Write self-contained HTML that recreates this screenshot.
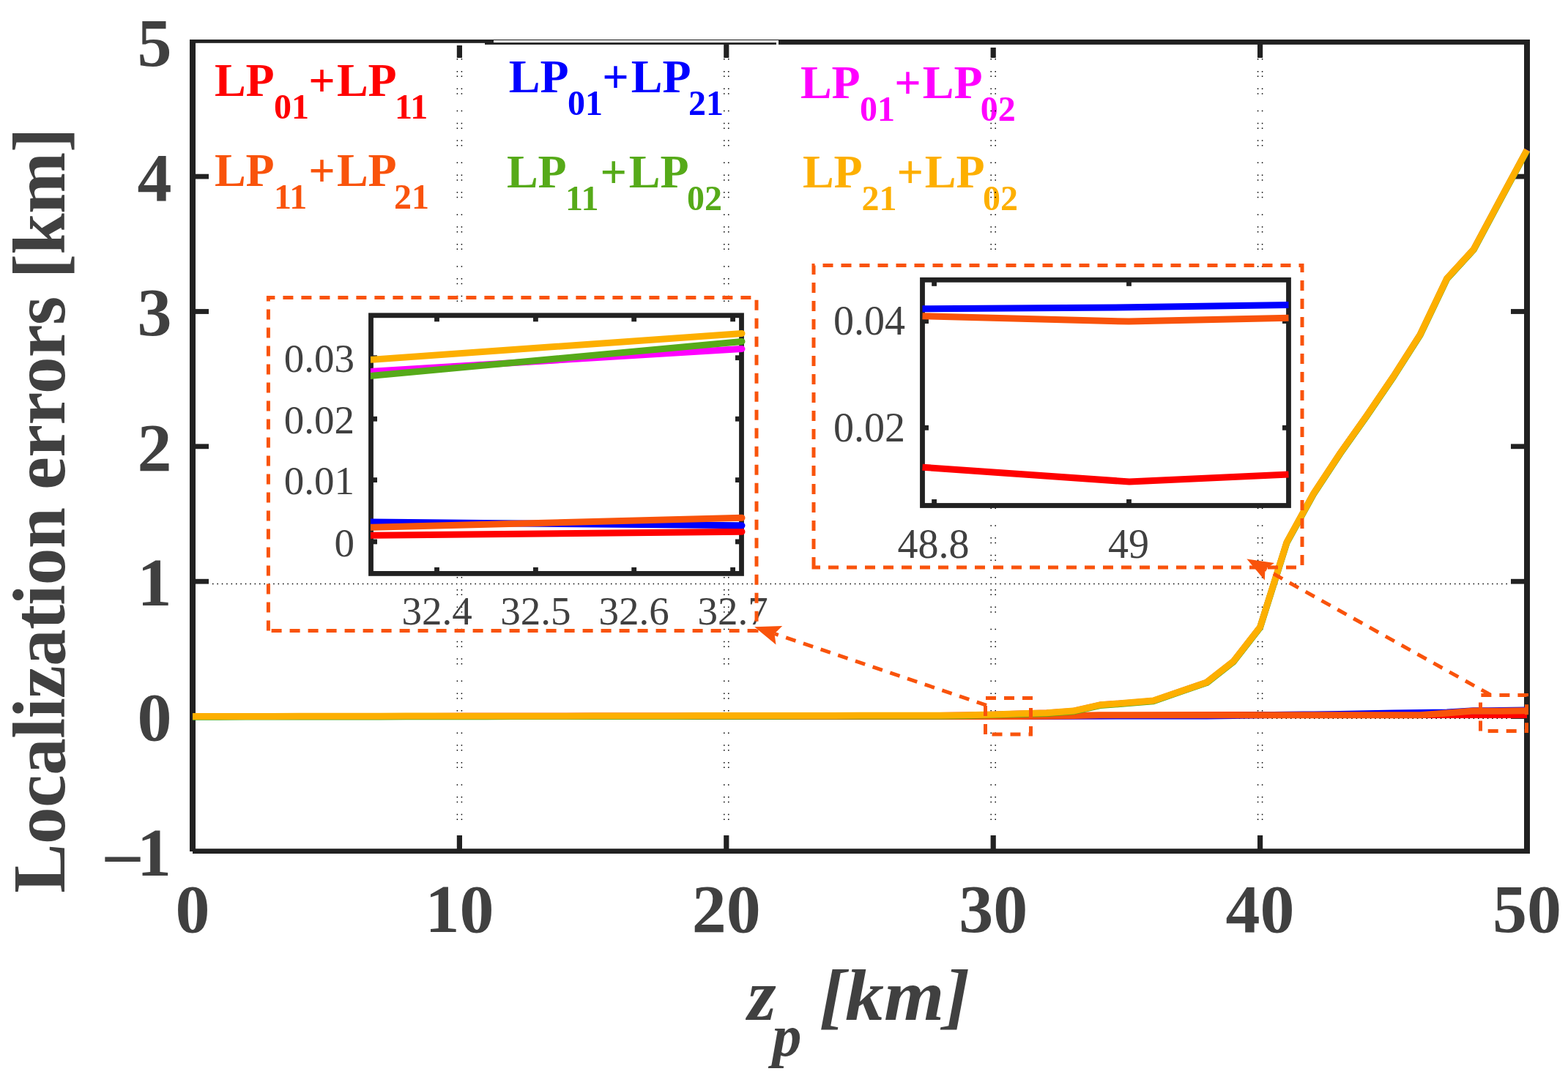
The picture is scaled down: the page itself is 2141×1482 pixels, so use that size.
<!DOCTYPE html>
<html><head><meta charset="utf-8"><title>Localization errors</title><style>html,body{margin:0;padding:0;background:#fff;overflow:hidden}svg{display:block}</style></head><body>
<svg width="2141" height="1482" viewBox="0 0 2141 1482">
<rect x="0" y="0" width="2141" height="1482" fill="#fff"/>
<text style="font-family:'Liberation Serif','Times New Roman',serif;font-weight:bold;fill:#FF0000"><tspan x="292.9" y="130.7" font-size="64">LP</tspan><tspan x="374.1" y="161.9" font-size="48">01</tspan><tspan x="421.3" y="130.7" font-size="64">+</tspan><tspan x="459.9" y="130.7" font-size="64">LP</tspan><tspan x="538.9" y="161.9" font-size="48">11</tspan></text>
<text style="font-family:'Liberation Serif','Times New Roman',serif;font-weight:bold;fill:#F9530B"><tspan x="292.9" y="253.9" font-size="64">LP</tspan><tspan x="373.9" y="284.7" font-size="48">11</tspan><tspan x="421.3" y="253.9" font-size="64">+</tspan><tspan x="459.9" y="253.9" font-size="64">LP</tspan><tspan x="538.1" y="284.7" font-size="48">21</tspan></text>
<text style="font-family:'Liberation Serif','Times New Roman',serif;font-weight:bold;fill:#0000FF"><tspan x="694.8" y="126.0" font-size="64">LP</tspan><tspan x="774.9" y="157.1" font-size="48">01</tspan><tspan x="822.3" y="126.0" font-size="64">+</tspan><tspan x="861.7" y="126.0" font-size="64">LP</tspan><tspan x="940.0" y="157.1" font-size="48">21</tspan></text>
<text style="font-family:'Liberation Serif','Times New Roman',serif;font-weight:bold;fill:#56AA19"><tspan x="691.9" y="255.7" font-size="64">LP</tspan><tspan x="772.1" y="286.9" font-size="48">11</tspan><tspan x="819.5" y="255.7" font-size="64">+</tspan><tspan x="858.8" y="255.7" font-size="64">LP</tspan><tspan x="938.1" y="286.9" font-size="48">02</tspan></text>
<text style="font-family:'Liberation Serif','Times New Roman',serif;font-weight:bold;fill:#FF00FF"><tspan x="1092.9" y="133.9" font-size="64">LP</tspan><tspan x="1174.1" y="164.8" font-size="48">01</tspan><tspan x="1221.3" y="133.9" font-size="64">+</tspan><tspan x="1259.8" y="133.9" font-size="64">LP</tspan><tspan x="1338.8" y="164.8" font-size="48">02</tspan></text>
<text style="font-family:'Liberation Serif','Times New Roman',serif;font-weight:bold;fill:#FDAF00"><tspan x="1095.9" y="255.7" font-size="64">LP</tspan><tspan x="1176.4" y="286.9" font-size="48">21</tspan><tspan x="1224.5" y="255.7" font-size="64">+</tspan><tspan x="1262.7" y="255.7" font-size="64">LP</tspan><tspan x="1342.1" y="286.9" font-size="48">02</tspan></text>
<line x1="624.4" y1="80" x2="624.4" y2="1140" stroke="#000" stroke-width="1.5" stroke-dasharray="1.5 15.4 1.5 5.2 1.5 15.4 1.5 5.2 1.5 22.1"/>
<line x1="630.4" y1="80" x2="630.4" y2="1140" stroke="#000" stroke-width="1.5" stroke-dasharray="1.5 15.4 1.5 5.2 1.5 15.4 1.5 5.2 1.5 22.1"/>
<line x1="988.8" y1="80" x2="988.8" y2="1140" stroke="#000" stroke-width="1.5" stroke-dasharray="1.5 15.4 1.5 5.2 1.5 15.4 1.5 5.2 1.5 22.1"/>
<line x1="994.8" y1="80" x2="994.8" y2="1140" stroke="#000" stroke-width="1.5" stroke-dasharray="1.5 15.4 1.5 5.2 1.5 15.4 1.5 5.2 1.5 22.1"/>
<line x1="1353.2" y1="80" x2="1353.2" y2="1140" stroke="#000" stroke-width="1.5" stroke-dasharray="1.5 15.4 1.5 5.2 1.5 15.4 1.5 5.2 1.5 22.1"/>
<line x1="1359.2" y1="80" x2="1359.2" y2="1140" stroke="#000" stroke-width="1.5" stroke-dasharray="1.5 15.4 1.5 5.2 1.5 15.4 1.5 5.2 1.5 22.1"/>
<line x1="1717.6" y1="80" x2="1717.6" y2="1140" stroke="#000" stroke-width="1.5" stroke-dasharray="1.5 15.4 1.5 5.2 1.5 15.4 1.5 5.2 1.5 22.1"/>
<line x1="1723.6" y1="80" x2="1723.6" y2="1140" stroke="#000" stroke-width="1.5" stroke-dasharray="1.5 15.4 1.5 5.2 1.5 15.4 1.5 5.2 1.5 22.1"/>
<line x1="290" y1="797.5" x2="2062" y2="797.5" stroke="#000" stroke-width="1.5" stroke-dasharray="1.5 4.9"/>
<line x1="290" y1="981.3" x2="2062" y2="981.3" stroke="#000" stroke-width="1.5" stroke-dasharray="1.5 4.9"/>
<g fill="#212121">
<rect x="259" y="54" width="8" height="1109"/>
<rect x="2081" y="54" width="8" height="1112"/>
<rect x="263" y="1159.2" width="1826" height="6.8"/>
<rect x="259" y="54" width="404" height="4.8"/>
<rect x="662" y="54" width="1427" height="6.9"/>
<rect x="263" y="975.1" width="22" height="6.8"/>
<rect x="2063" y="975.1" width="22" height="6.8"/>
<rect x="263" y="790.8" width="22" height="6.8"/>
<rect x="2063" y="790.8" width="22" height="6.8"/>
<rect x="263" y="606.4" width="22" height="6.8"/>
<rect x="2063" y="606.4" width="22" height="6.8"/>
<rect x="263" y="422.1" width="22" height="6.8"/>
<rect x="2063" y="422.1" width="22" height="6.8"/>
<rect x="263" y="237.7" width="22" height="6.8"/>
<rect x="2063" y="237.7" width="22" height="6.8"/>
<rect x="623.8" y="1141" width="7.2" height="20"/>
<rect x="623.8" y="62" width="7.2" height="17"/>
<rect x="988.2" y="1141" width="7.2" height="20"/>
<rect x="988.2" y="60" width="7.2" height="19"/>
<rect x="1352.6" y="1141" width="7.2" height="20"/>
<rect x="1352.6" y="65" width="7.2" height="14"/>
<rect x="1717.0" y="1141" width="7.2" height="20"/>
<rect x="1717.0" y="60" width="7.2" height="19"/>
</g>
<rect x="674" y="55.1" width="389" height="3.0" fill="#fff"/>
<rect x="1060" y="58" width="3" height="3" fill="#fff"/>
<g style="font-family:'Liberation Serif','Times New Roman',serif;font-weight:bold;font-size:94px;fill:#404040">
<text x="234.5" y="89.5" text-anchor="end">5</text>
<text x="234.5" y="273.9" text-anchor="end">4</text>
<text x="234.5" y="458.3" text-anchor="end">3</text>
<text x="234.5" y="642.6" text-anchor="end">2</text>
<text x="234.5" y="826.9" text-anchor="end">1</text>
<text x="234.5" y="1011.3" text-anchor="end">0</text>
<text x="144.0" y="1195.6">–<tspan x="186.9">1</tspan></text>
<text x="263.0" y="1272.9" text-anchor="middle">0</text>
<text x="627.4" y="1272.9" text-anchor="middle">10</text>
<text x="991.8" y="1272.9" text-anchor="middle">20</text>
<text x="1356.2" y="1272.9" text-anchor="middle">30</text>
<text x="1720.6" y="1272.9" text-anchor="middle">40</text>
<text x="2085.0" y="1272.9" text-anchor="middle">50</text>
</g>
<text transform="translate(88,1219.7) rotate(-90)" textLength="1045" lengthAdjust="spacing" style="font-family:'Liberation Serif','Times New Roman',serif;font-weight:bold;font-size:101px;fill:#404040">Localization errors [km]</text>
<text style="font-family:'Liberation Serif','Times New Roman',serif;font-weight:bold;font-style:italic;fill:#404040"><tspan x="1020.8" y="1392.6" font-size="100">z</tspan><tspan x="1054.6" y="1442" font-size="80">p</tspan></text>
<text transform="translate(1118.6,1392.6) scale(1.06,1)" style="font-family:'Liberation Serif','Times New Roman',serif;font-weight:bold;font-style:italic;font-size:100px;fill:#404040">[km]</text>
<path d="M263.0,978.5 L299.4,978.5 L335.9,978.5 L372.3,978.5 L408.8,978.5 L445.2,978.5 L481.6,978.5 L518.1,978.5 L554.5,978.5 L591.0,978.5 L627.4,978.5 L663.8,978.5 L700.3,978.5 L736.7,978.5 L773.2,978.5 L809.6,978.5 L846.0,978.5 L882.5,978.5 L918.9,978.5 L955.4,978.5 L991.8,978.5 L1028.2,978.5 L1064.7,978.5 L1101.1,978.5 L1137.6,978.5 L1174.0,978.5 L1210.4,978.5 L1246.9,978.5 L1283.3,978.5 L1319.8,978.5 L1356.2,978.5 L1392.6,978.5 L1429.1,978.3 L1465.5,978.0 L1502.0,977.8 L1538.4,977.5 L1574.8,977.2 L1611.3,976.9 L1647.7,976.7 L1684.2,976.5 L1720.6,976.5 L1757.0,976.5 L1793.5,976.5 L1829.9,976.5 L1866.4,976.5 L1902.8,976.5 L1939.2,976.5 L1975.7,976.5 L2012.1,976.5 L2048.6,976.5 L2085.0,976.5" fill="none" stroke="#FF0000" stroke-width="9" stroke-linejoin="round" stroke-linecap="butt"/>
<path d="M263.0,978.5 L299.4,978.5 L335.9,978.5 L372.3,978.5 L408.8,978.5 L445.2,978.5 L481.6,978.5 L518.1,978.5 L554.5,978.5 L591.0,978.5 L627.4,978.5 L663.8,978.5 L700.3,978.5 L736.7,978.5 L773.2,978.5 L809.6,978.5 L846.0,978.5 L882.5,978.5 L918.9,978.5 L955.4,978.5 L991.8,978.5 L1028.2,978.5 L1064.7,978.5 L1101.1,978.5 L1137.6,978.5 L1174.0,978.5 L1210.4,978.5 L1246.9,978.5 L1283.3,978.5 L1319.8,978.5 L1356.2,978.5 L1392.6,978.5 L1429.1,977.9 L1465.5,977.9 L1502.0,977.9 L1538.4,977.9 L1574.8,977.9 L1611.3,977.9 L1647.7,977.9 L1684.2,977.4 L1720.6,976.7 L1757.0,976.3 L1793.5,975.9 L1829.9,975.6 L1866.4,974.8 L1902.8,974.1 L1939.2,973.5 L1975.7,973.0 L2012.1,970.8 L2048.6,970.6 L2085.0,970.0" fill="none" stroke="#0000FF" stroke-width="9" stroke-linejoin="round" stroke-linecap="butt"/>
<path d="M263.0,978.5 L299.4,978.5 L335.9,978.4 L372.3,978.4 L408.8,978.3 L445.2,978.3 L481.6,978.2 L518.1,978.2 L554.5,978.1 L591.0,978.1 L627.4,978.0 L663.8,978.0 L700.3,977.9 L736.7,977.9 L773.2,977.9 L809.6,977.8 L846.0,977.8 L882.5,977.7 L918.9,977.7 L955.4,977.6 L991.8,977.6 L1028.2,977.5 L1064.7,977.5 L1101.1,977.4 L1137.6,977.4 L1174.0,977.3 L1210.4,977.3 L1246.9,977.3 L1283.3,977.2 L1319.8,976.7 L1356.2,975.9 L1392.6,974.8 L1429.1,973.7 L1465.5,971.1 L1502.0,962.8 L1538.4,960.1 L1574.8,957.1 L1611.3,944.4 L1647.7,931.9 L1684.2,903.3 L1720.6,856.5 L1757.0,740.7 L1793.5,674.3 L1829.9,619.0 L1866.4,567.4 L1902.8,513.9 L1939.2,456.8 L1975.7,380.3 L2012.1,340.6 L2048.6,272.4 L2085.0,204.8" fill="none" stroke="#FF00FF" stroke-width="8.4" stroke-linejoin="round" stroke-linecap="butt"/>
<path d="M263.0,978.5 L299.4,978.5 L335.9,978.5 L372.3,978.5 L408.8,978.5 L445.2,978.5 L481.6,978.5 L518.1,978.5 L554.5,978.5 L591.0,978.5 L627.4,978.5 L663.8,978.5 L700.3,978.5 L736.7,978.5 L773.2,978.5 L809.6,978.5 L846.0,978.5 L882.5,978.5 L918.9,978.5 L955.4,978.5 L991.8,978.5 L1028.2,978.5 L1064.7,978.5 L1101.1,978.5 L1137.6,978.5 L1174.0,978.5 L1210.4,978.5 L1246.9,978.5 L1283.3,978.5 L1319.8,978.5 L1356.2,978.5 L1392.6,978.5 L1429.1,977.9 L1465.5,977.4 L1502.0,976.7 L1538.4,976.7 L1574.8,976.7 L1611.3,976.7 L1647.7,976.7 L1684.2,976.7 L1720.6,976.7 L1757.0,976.7 L1793.5,976.7 L1829.9,976.7 L1866.4,976.7 L1902.8,976.7 L1939.2,976.7 L1975.7,973.9 L2012.1,971.1 L2048.6,971.2 L2085.0,970.8" fill="none" stroke="#F9530B" stroke-width="9" stroke-linejoin="round" stroke-linecap="butt"/>
<path d="M263.0,979.2 L299.4,979.2 L335.9,979.1 L372.3,979.1 L408.8,979.0 L445.2,979.0 L481.6,978.9 L518.1,978.9 L554.5,978.8 L591.0,978.8 L627.4,978.7 L663.8,978.7 L700.3,978.6 L736.7,978.6 L773.2,978.6 L809.6,978.5 L846.0,978.5 L882.5,978.4 L918.9,978.4 L955.4,978.3 L991.8,978.3 L1028.2,978.2 L1064.7,978.2 L1101.1,978.1 L1137.6,978.1 L1174.0,978.0 L1210.4,978.0 L1246.9,978.0 L1283.3,977.9 L1319.8,977.4 L1356.2,976.6 L1392.6,975.5 L1429.1,974.4 L1465.5,971.8 L1502.0,963.5 L1538.4,960.8 L1574.8,957.8 L1611.3,945.1 L1647.7,932.6 L1684.2,904.0 L1720.6,857.2 L1757.0,741.4 L1793.5,675.0 L1829.9,619.7 L1866.4,568.1 L1902.8,514.6 L1939.2,457.5 L1975.7,381.0 L2012.1,341.3 L2048.6,273.1 L2085.0,205.5" fill="none" stroke="#56AA19" stroke-width="9" stroke-linejoin="round" stroke-linecap="butt"/>
<path d="M263.0,978.5 L299.4,978.5 L335.9,978.4 L372.3,978.4 L408.8,978.3 L445.2,978.3 L481.6,978.2 L518.1,978.2 L554.5,978.1 L591.0,978.1 L627.4,978.0 L663.8,978.0 L700.3,977.9 L736.7,977.9 L773.2,977.9 L809.6,977.8 L846.0,977.8 L882.5,977.7 L918.9,977.7 L955.4,977.6 L991.8,977.6 L1028.2,977.5 L1064.7,977.5 L1101.1,977.4 L1137.6,977.4 L1174.0,977.3 L1210.4,977.3 L1246.9,977.3 L1283.3,977.2 L1319.8,976.7 L1356.2,975.9 L1392.6,974.8 L1429.1,973.7 L1465.5,971.1 L1502.0,962.8 L1538.4,960.1 L1574.8,957.1 L1611.3,944.4 L1647.7,931.9 L1684.2,903.3 L1720.6,856.5 L1757.0,740.7 L1793.5,674.3 L1829.9,619.0 L1866.4,567.4 L1902.8,513.9 L1939.2,456.8 L1975.7,380.3 L2012.1,340.6 L2048.6,272.4 L2085.0,204.8" fill="none" stroke="#FDAF00" stroke-width="9" stroke-linejoin="round" stroke-linecap="butt"/>
<rect x="506.5" y="430.8" width="506.0" height="352.59999999999997" fill="#fff"/>
<rect x="506.5" y="430.8" width="506.0" height="352.59999999999997" fill="none" stroke="#212121" stroke-width="6.8"/>
<g fill="#212121">
<rect x="593.1" y="774.9" width="6.8" height="8.5"/>
<rect x="593.1" y="430.8" width="6.8" height="8.5"/>
<rect x="728.0" y="774.9" width="6.8" height="8.5"/>
<rect x="728.0" y="430.8" width="6.8" height="8.5"/>
<rect x="862.3" y="774.9" width="6.8" height="8.5"/>
<rect x="862.3" y="430.8" width="6.8" height="8.5"/>
<rect x="997.2" y="774.9" width="6.8" height="8.5"/>
<rect x="997.2" y="430.8" width="6.8" height="8.5"/>
<rect x="506.5" y="736.5" width="8.5" height="6.8"/>
<rect x="1004.0" y="736.5" width="8.5" height="6.8"/>
<rect x="506.5" y="652.2" width="8.5" height="6.8"/>
<rect x="1004.0" y="652.2" width="8.5" height="6.8"/>
<rect x="506.5" y="568.8" width="8.5" height="6.8"/>
<rect x="1004.0" y="568.8" width="8.5" height="6.8"/>
<rect x="506.5" y="485.3" width="8.5" height="6.8"/>
<rect x="1004.0" y="485.3" width="8.5" height="6.8"/>
</g>
<clipPath id="c1"><rect x="506" y="400" width="520" height="400"/></clipPath>
<g clip-path="url(#c1)">
<line x1="506" y1="731.2" x2="1013" y2="726.3" stroke="#FF0000" stroke-width="9" stroke-linecap="round"/>
<line x1="506" y1="713.0" x2="1013" y2="717.8" stroke="#0000FF" stroke-width="9" stroke-linecap="round"/>
<line x1="506" y1="507.5" x2="1013" y2="476.5" stroke="#FF00FF" stroke-width="9" stroke-linecap="round"/>
<line x1="506" y1="720.3" x2="1013" y2="707.3" stroke="#F9530B" stroke-width="9" stroke-linecap="round"/>
<line x1="506" y1="513.4" x2="1013" y2="466.4" stroke="#56AA19" stroke-width="9" stroke-linecap="round"/>
<line x1="506" y1="491.3" x2="1013" y2="455.5" stroke="#FDAF00" stroke-width="9" stroke-linecap="round"/>
</g>
<g style="font-family:'Liberation Serif','Times New Roman',serif;font-size:55px;fill:#404040">
<text x="484" y="508.3" text-anchor="end">0.03</text>
<text x="484" y="591.8" text-anchor="end">0.02</text>
<text x="484" y="675.2" text-anchor="end">0.01</text>
<text x="484" y="759.5" text-anchor="end">0</text>
<text x="596.5" y="853.3" text-anchor="middle">32.4</text>
<text x="731.4" y="853.3" text-anchor="middle">32.5</text>
<text x="865.7" y="853.3" text-anchor="middle">32.6</text>
<text x="1000.6" y="853.3" text-anchor="middle">32.7</text>
</g>
<rect x="1259.5" y="382.3" width="500.0" height="308.2" fill="#fff"/>
<rect x="1259.5" y="382.3" width="500.0" height="308.2" fill="none" stroke="#212121" stroke-width="6.8"/>
<g fill="#212121">
<rect x="1272.2" y="682.0" width="6.8" height="8.5"/>
<rect x="1272.2" y="382.3" width="6.8" height="8.5"/>
<rect x="1538.1" y="682.0" width="6.8" height="8.5"/>
<rect x="1538.1" y="382.3" width="6.8" height="8.5"/>
<rect x="1259.5" y="435.2" width="8.5" height="6.8"/>
<rect x="1751.0" y="435.2" width="8.5" height="6.8"/>
<rect x="1259.5" y="580.9" width="8.5" height="6.8"/>
<rect x="1751.0" y="580.9" width="8.5" height="6.8"/>
</g>
<path d="M1259.5,638.2 L1542,658.0 L1759.5,647.9" fill="none" stroke="#FF0000" stroke-width="9" stroke-linejoin="round"/>
<path d="M1259.5,421.8 L1541.5,419.8 L1759.5,416.5" fill="none" stroke="#0000FF" stroke-width="9" stroke-linejoin="round"/>
<path d="M1259.5,431.7 L1541.5,439.1 L1759.5,434.2" fill="none" stroke="#F9530B" stroke-width="9" stroke-linejoin="round"/>
<g style="font-family:'Liberation Serif','Times New Roman',serif;font-size:56px;fill:#404040">
<text x="1236" y="457.1" text-anchor="end">0.04</text>
<text x="1236" y="602.8" text-anchor="end">0.02</text>
<text x="1274.5" y="761.5" text-anchor="middle">48.8</text>
<text x="1541.0" y="761.5" text-anchor="middle">49</text>
</g>
<path d="M366.4,861.4 L366.4,406.4 L1033.0,406.4 L1033.0,861.4 Z" fill="none" stroke="#F9530B" stroke-width="5" stroke-dasharray="14 11"/>
<path d="M1111.0,775.0 L1111.0,362.5 L1778.0,362.5 L1778.0,775.0 Z" fill="none" stroke="#F9530B" stroke-width="5" stroke-dasharray="14 11"/>
<path d="M1345.5,1003.0 L1345.5,953.5 L1407.5,953.5 L1407.5,1003.0 Z" fill="none" stroke="#F9530B" stroke-width="5" stroke-dasharray="14 11"/>
<path d="M2021.5,998.5 L2021.5,949.4 L2084.5,949.4 L2084.5,998.5 Z" fill="none" stroke="#F9530B" stroke-width="5" stroke-dasharray="14 11"/>
<line x1="1347.0" y1="963.3" x2="1057.5" y2="865.5" stroke="#F9530B" stroke-width="5" stroke-dasharray="14 11"/>
<polygon points="1030.2,856.3 1059.5,880.4 1057.5,865.5 1068.2,854.9" fill="#F9530B"/>
<line x1="2035.0" y1="949.0" x2="1727.5" y2="777.4" stroke="#F9530B" stroke-width="5" stroke-dasharray="14 11"/>
<polygon points="1702.4,763.4 1726.8,792.5 1727.5,777.4 1740.0,768.9" fill="#F9530B"/>
</svg>
</body></html>
